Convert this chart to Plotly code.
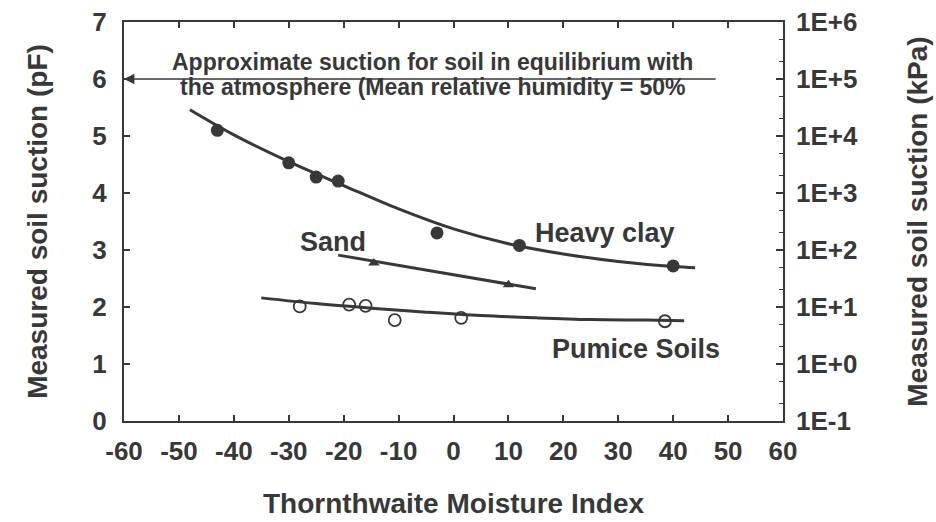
import plotly.graph_objects as go

# Measured points
clay_x = [-43, -30, -25, -21, -3, 12, 40]
clay_y = [5.1, 4.53, 4.28, 4.21, 3.3, 3.08, 2.72]
sand_x = [-14.5, 10]
sand_y = [2.77, 2.39]
pumice_x = [-28, -19, -16, -10.7, 1.4, 38.5]
pumice_y = [2.01, 2.04, 2.02, 1.77, 1.81, 1.75]

# Trend curves drawn through each data set
clay_fit_x = [-48, -40, -30, -20, -10, 0, 10, 20, 30, 40, 44]
clay_fit_y = [5.46, 5.02, 4.55, 4.13, 3.72, 3.37, 3.11, 2.93, 2.8, 2.71, 2.69]
sand_fit_x = [-21, 15]
sand_fit_y = [2.91, 2.32]
pumice_fit_x = [-35, -25, -15, -5, 5, 15, 25, 35, 42]
pumice_fit_y = [2.16, 2.06, 1.98, 1.91, 1.85, 1.81, 1.78, 1.77, 1.76]

x_ticks = list(range(-60, 61, 10))
x_labels = [str(v) for v in x_ticks]
pf_ticks = list(range(0, 8))
kpa_ticks = [0.1, 1, 10, 100, 1e3, 1e4, 1e5, 1e6]
kpa_labels = ["1E-1", "1E+0", "1E+1", "1E+2", "1E+3", "1E+4", "1E+5", "1E+6"]

INK = "#383838"
FONT = "Liberation Sans, Arial, sans-serif"

fig = go.Figure()

fig.add_trace(go.Scatter(x=clay_fit_x, y=clay_fit_y, mode="lines",
                         line=dict(color=INK, width=3, shape="spline", smoothing=1.0),
                         showlegend=False))
fig.add_trace(go.Scatter(x=sand_fit_x, y=sand_fit_y, mode="lines",
                         line=dict(color=INK, width=3), showlegend=False))
fig.add_trace(go.Scatter(x=pumice_fit_x, y=pumice_fit_y, mode="lines",
                         line=dict(color=INK, width=3, shape="spline", smoothing=1.0),
                         showlegend=False))

fig.add_trace(go.Scatter(x=clay_x, y=clay_y, mode="markers",
                         marker=dict(symbol="circle", size=13, color=INK), showlegend=False))
fig.add_trace(go.Scatter(x=sand_x, y=sand_y, mode="markers",
                         marker=dict(symbol="triangle-up", size=10, color=INK), showlegend=False))
fig.add_trace(go.Scatter(x=pumice_x, y=pumice_y, mode="markers",
                         marker=dict(symbol="circle-open", size=12, color=INK,
                                     line=dict(width=1.8, color=INK)), showlegend=False))

# Invisible trace so the kPa axis is drawn
fig.add_trace(go.Scatter(x=[0], y=[1], yaxis="y2", mode="markers",
                         marker=dict(opacity=0), hoverinfo="skip", showlegend=False))

# Equilibrium suction line with arrow to the pF axis
fig.add_annotation(x=-60, y=6, ax=48, ay=6, xref="x", yref="y", axref="x", ayref="y",
                   showarrow=True, arrowhead=2, arrowsize=1.3, arrowwidth=1.6,
                   arrowcolor=INK, text="")
note_font = dict(family=FONT, size=23, color=INK, weight="bold")
fig.add_annotation(x=-3.8, y=6.29, xref="x", yref="y", showarrow=False,
                   text="Approximate suction for soil in equilibrium with", font=note_font)
fig.add_annotation(x=-3.8, y=5.86, xref="x", yref="y", showarrow=False,
                   text="the atmosphere (Mean relative humidity = 50%", font=note_font)

label_font = dict(family=FONT, size=27, color=INK, weight="bold")
fig.add_annotation(x=14.5, y=3.3, xref="x", yref="y", xanchor="left", showarrow=False,
                   text="Heavy clay", font=label_font)
fig.add_annotation(x=-28.3, y=3.14, xref="x", yref="y", xanchor="left", showarrow=False,
                   text="Sand", font=label_font)
fig.add_annotation(x=17.6, y=1.27, xref="x", yref="y", xanchor="left", showarrow=False,
                   text="Pumice Soils", font=label_font)

tick_font = dict(family=FONT, size=26, color=INK, weight="bold")
title_font = dict(family=FONT, size=28, color=INK, weight="bold")

fig.update_layout(
    width=936, height=522,
    margin=dict(l=124, r=153, t=22, b=101, autoexpand=False),
    paper_bgcolor="white", plot_bgcolor="white",
    xaxis=dict(range=[-60, 60], tickvals=x_ticks, ticktext=x_labels, ticks="inside", ticklen=6,
               tickcolor=INK, tickwidth=1.5, showgrid=False, zeroline=False,
               showline=True, linecolor=INK, linewidth=2.4, mirror="ticks",
               tickfont=tick_font, ticklabelstandoff=6, automargin=False,
               title=dict(text="Thornthwaite Moisture Index", font=title_font, standoff=28)),
    yaxis=dict(range=[0, 7], tickvals=pf_ticks, ticks="inside", ticklen=6,
               tickcolor=INK, tickwidth=1.5, showgrid=False, zeroline=False,
               showline=True, linecolor=INK, linewidth=2.4, mirror=True,
               tickfont=tick_font, ticklabelstandoff=10, automargin=False,
               title=dict(text="Measured soil suction (pF)", font=title_font, standoff=36)),
    yaxis2=dict(type="log", range=[-1, 6], overlaying="y", side="right",
                tickvals=kpa_ticks, ticktext=kpa_labels, ticks="inside", ticklen=7,
                tickcolor=INK, tickwidth=1.5, showgrid=False, zeroline=False,
                showline=False, tickfont=tick_font, ticklabelstandoff=12, automargin=False,
                minor=dict(ticks="inside", ticklen=4, tickcolor=INK, tickwidth=1, showgrid=False),
                title=dict(text="Measured soil suction (kPa)", font=title_font, standoff=50)),
)

fig.write_html("out.html")
